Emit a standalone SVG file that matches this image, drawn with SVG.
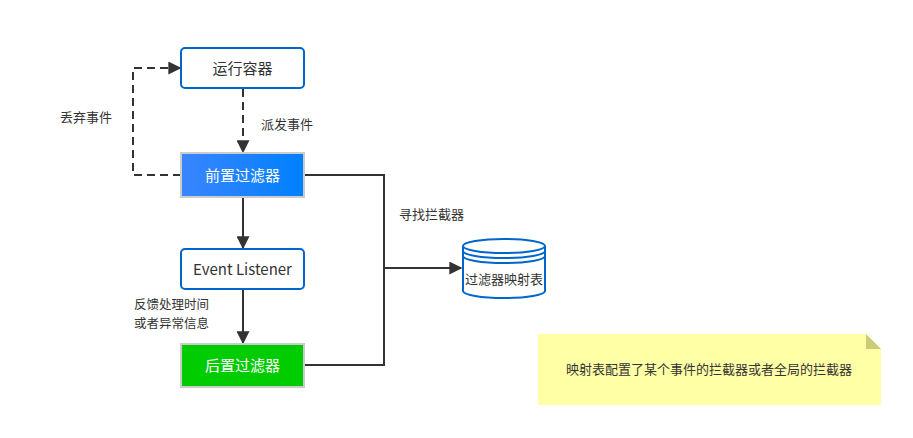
<svg xmlns="http://www.w3.org/2000/svg" width="913" height="438" viewBox="0 0 913 438">
<style>
text{font-family:"Noto Sans CJK SC","Noto Sans",sans-serif;font-size:13px;fill:#333}
.nt{font-size:15px}
.sm{font-size:12.5px}
.w{fill:#fff}
.edge{stroke:#333;stroke-width:2;fill:none}
.dash{stroke-dasharray:8,5}
.box{fill:#fff;stroke:#0066cc;stroke-width:2}
</style>
<defs>
<linearGradient id="g1" x1="0" x2="1" y1="0" y2="0"><stop offset="0" stop-color="#3a85ff"/><stop offset="1" stop-color="#0080ff"/></linearGradient>
<marker id="ahl" viewBox="0 0 10 10" refX="9" refY="5" markerWidth="13" markerHeight="13" markerUnits="userSpaceOnUse" orient="auto"><path d="M0,0L10,5L0,10z" fill="#333"/></marker>
</defs>
<g id="edges">
<path class="edge dash" d="M243,89V152" marker-end="url(#ahl)"/>
<path class="edge dash" d="M181,175H133V68H180" marker-end="url(#ahl)"/>
<path class="edge" d="M243,197V248" marker-end="url(#ahl)"/>
<path class="edge" d="M243,290V343" marker-end="url(#ahl)"/>
<path class="edge" d="M305,175H384V365H305"/>
<path class="edge" d="M384,268H461" marker-end="url(#ahl)"/>
<text x="261" y="129">派发事件</text>
<text x="60" y="122">丢弃事件</text>
<text x="399" y="219">寻找拦截器</text>
<text class="sm" x="134" y="309">反馈处理时间</text>
<text class="sm" x="134" y="327.5">或者异常信息</text>
</g>
<g id="n1"><rect class="box" x="181" y="48" width="123" height="40" rx="4"/><text class="nt" x="242.5" y="73.5" text-anchor="middle">运行容器</text></g>
<g id="n2"><rect x="181" y="153" width="123" height="44" fill="url(#g1)" stroke="#ccc" stroke-width="2"/><text class="nt w" x="242.5" y="180.5" text-anchor="middle">前置过滤器</text></g>
<g id="n3"><rect class="box" x="181" y="249" width="123" height="40" rx="4"/><text class="nt" x="242.5" y="274.5" text-anchor="middle">Event Listener</text></g>
<g id="n4"><rect x="181" y="344" width="123" height="43" fill="#00cc00" stroke="#ccc" stroke-width="2"/><text class="nt w" x="242.5" y="371" text-anchor="middle">后置过滤器</text></g>
<g id="n5">
<path d="M463,246V291A41,7 0 0 0 545,291V246" fill="#fff" stroke="#0066cc" stroke-width="2"/>
<ellipse cx="504" cy="246" rx="41" ry="7" fill="#fff" stroke="#0066cc" stroke-width="2"/>
<path d="M463,251A41,7 0 0 0 545,251M463,256A41,7 0 0 0 545,256" fill="none" stroke="#0066cc" stroke-width="2"/>
<text x="504" y="284" text-anchor="middle">过滤器映射表</text>
</g>
<g id="note">
<path d="M538,334H866L881,349V405H538z" fill="#ffffa6"/>
<path d="M866,334L881,349H866z" fill="#cccc77"/>
<text x="709" y="374" text-anchor="middle">映射表配置了某个事件的拦截器或者全局的拦截器</text>
</g>
</svg>
